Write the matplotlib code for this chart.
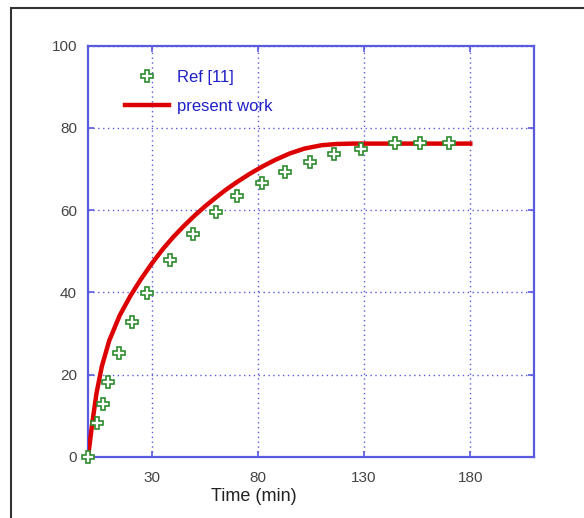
"""
Time curve: Ref [11] points vs present work.
"""

import matplotlib
matplotlib.use("Agg")
import matplotlib.pyplot as plt
from matplotlib.lines import Line2D
from matplotlib.patches import Rectangle

# Ref [11] measured points
ref_time = [0, 4.3, 7.0, 9.5, 14.5, 20.5, 27.8, 38.8, 49.5, 60.4, 70.2,
            81.7, 92.6, 104.7, 115.6, 128.5, 144.6, 156.1, 170.0]
ref_val = [0, 8.3, 13.0, 18.2, 25.3, 32.8, 39.9, 47.8, 54.1, 59.5, 63.4,
           66.7, 69.4, 71.7, 73.6, 75.0, 76.3, 76.3, 76.3]

# present work curve
work_time = [0, 0.5, 2, 4, 6.5, 10, 15, 20, 25, 30, 35, 40, 45, 50, 55, 60,
             65, 70, 76, 82, 88, 95, 102, 110, 117, 125, 150, 180]
work_val = [0, 2, 8.2, 15.5, 22, 28.3, 34.5, 39.2, 43.3, 47, 50.4, 53.4,
            56.1, 58.6, 60.9, 63.0, 65.0, 66.8, 68.8, 70.6, 72.2, 73.8,
            75.0, 75.8, 76.1, 76.2, 76.2, 76.2]

x_ticks = [30, 80, 130, 180]
y_ticks = [0, 20, 40, 60, 80, 100]

AXCOL = "#5a5ae0"
TXTCOL = "#1f1fc8"
plt.rcParams["font.family"] = ["Liberation Sans", "DejaVu Sans"]

fig = plt.figure(figsize=(5.84, 5.18), dpi=100)
# outer frame of the picture
fig.patches.append(Rectangle((11 / 584, -0.1), 1.2, 1 - 8 / 518 + 0.1,
                             transform=fig.transFigure, fill=False,
                             edgecolor="#333333", linewidth=1.5))

ax = fig.add_axes([88 / 584, 1 - 457 / 518, (534 - 88) / 584, (457 - 45.7) / 518])

ax.plot(work_time, work_val, color="#dd0000", linewidth=3.2, zorder=3,
        solid_joinstyle="round")
ax.plot(ref_time, ref_val, linestyle="none", marker="P", markersize=9,
        markerfacecolor="white", markeredgecolor="#2e8b2e",
        markeredgewidth=1.2, zorder=4, clip_on=False)

ax.set_xlim(0, 210)
ax.set_ylim(0, 100)
ax.set_xticks(x_ticks)
ax.set_yticks(y_ticks)
ax.grid(True, color=AXCOL, linestyle=(0, (1, 2.5)), linewidth=1.0)

for s in ax.spines.values():
    s.set_color(AXCOL)
    s.set_linewidth(1.6)
ax.tick_params(direction="in", length=4, width=1.2, color=AXCOL,
               labelcolor="#444444", labelsize=11, top=True, right=True,
               labeltop=False, labelright=False)
ax.tick_params(axis="y", pad=8)
ax.tick_params(axis="x", pad=10)

ax.set_xlabel("Time (min)", fontsize=13, color="#222222")
ax.xaxis.set_label_coords(0.372, -0.075)

handles = [
    Line2D([], [], linestyle="none", marker="P", markersize=9,
           markerfacecolor="white", markeredgecolor="#2e8b2e",
           markeredgewidth=1.2),
    Line2D([], [], color="#dd0000", linewidth=3.2),
]
leg = ax.legend(handles, ["Ref [11]", "present work"], loc="upper left",
                bbox_to_anchor=(0.05, 0.978), frameon=False, fontsize=12,
                handlelength=2.6, handletextpad=0.5, labelspacing=0.85)
for t in leg.get_texts():
    t.set_color(TXTCOL)

fig.savefig("out.png", dpi=100)
